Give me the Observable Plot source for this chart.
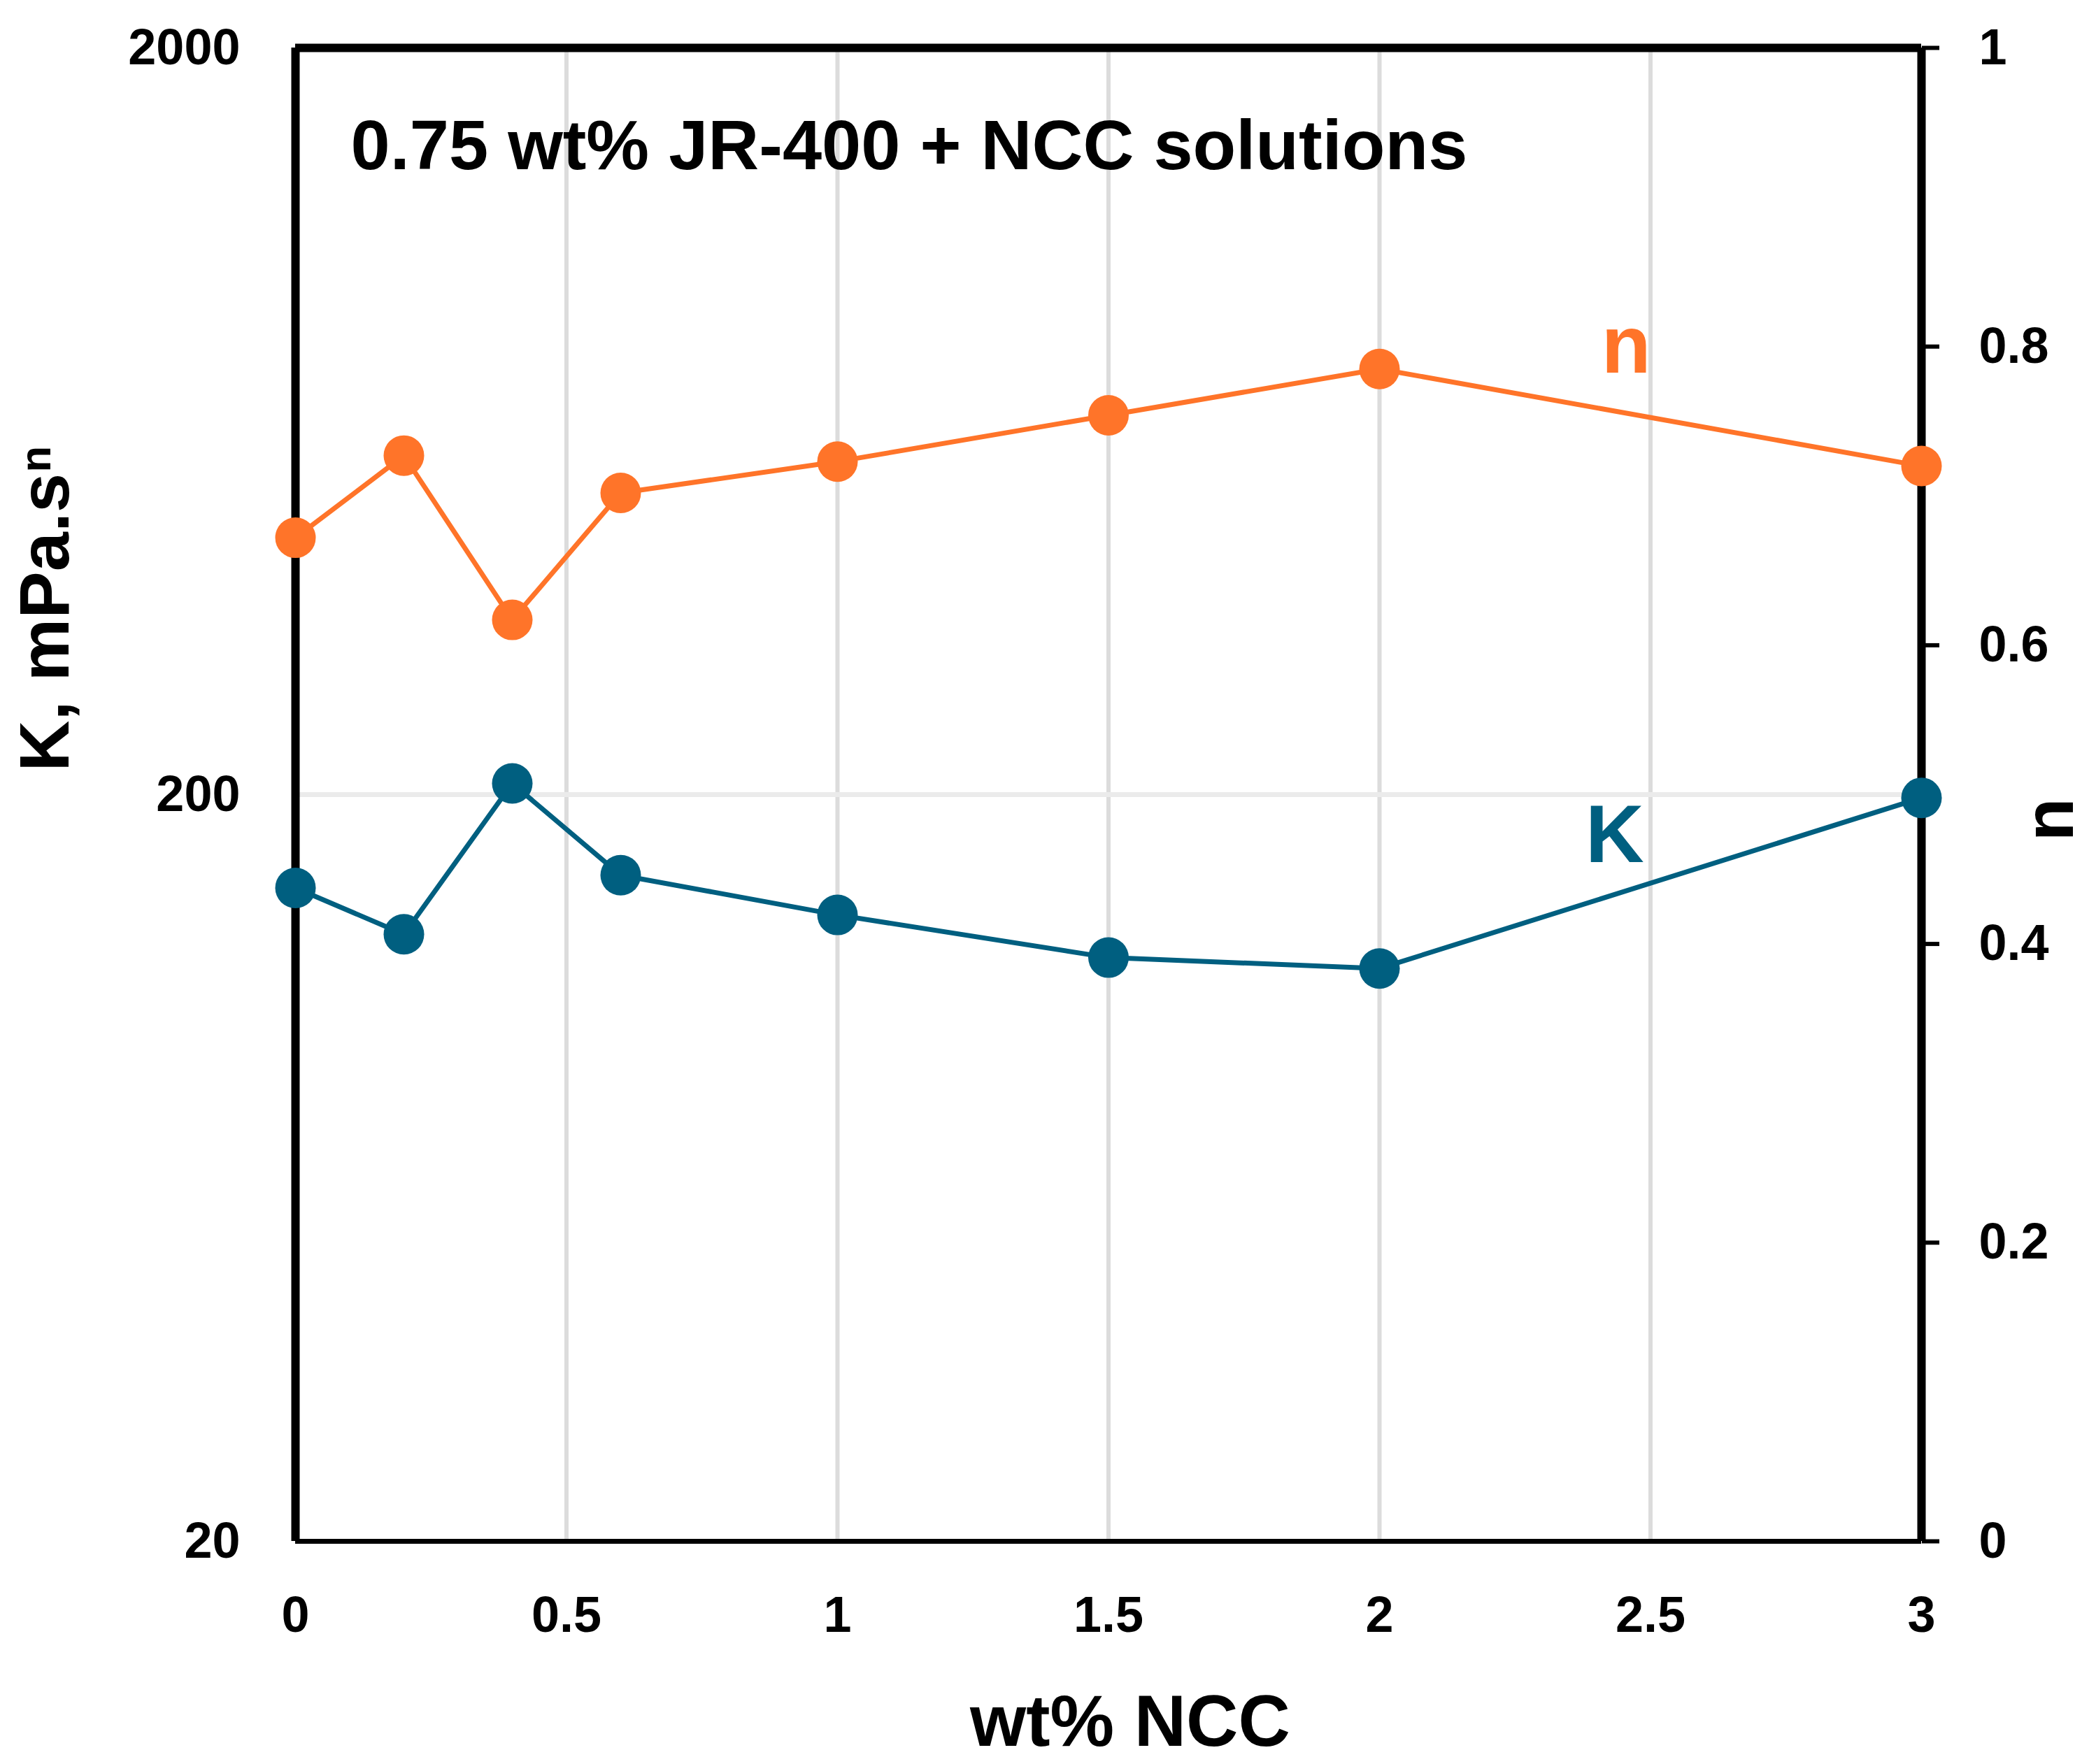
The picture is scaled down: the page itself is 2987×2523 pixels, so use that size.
<!DOCTYPE html>
<html>
<head>
<meta charset="utf-8">
<script src="https://cdn.jsdelivr.net/npm/d3@7"></script>
<script src="https://cdn.jsdelivr.net/npm/@observablehq/plot@0.6"></script>
<style>
  body { margin: 0; background: #fff; }
  #chart svg { display: block; }
</style>
</head>
<body>
<div id="chart"></div>
<script>
// K and n vs NCC loading, log K on the left, linear n on the right

const ncc = [0, 0.2, 0.4, 0.6, 1, 1.5, 2, 3];
const kValues = [150, 130, 207, 156, 138, 121, 117, 198];
const nValues = [0.672, 0.727, 0.617, 0.702, 0.723, 0.754, 0.785, 0.720];

const xTicks = [0, 0.5, 1, 1.5, 2, 2.5, 3];
const kTicks = [20, 200, 2000];
const nTicks = [0, 0.2, 0.4, 0.6, 0.8, 1];

const ORANGE = "#ff7429";
const TEAL = "#005f80";
const FONT = "'Liberation Sans', Arial, sans-serif";

// y scale runs in n units (0..1); the log K axis shares it: K=20 -> 0, K=2000 -> 1
const K_MIN = 20, K_MAX = 2000;
const kToN = k => Math.log(k / K_MIN) / Math.log(K_MAX / K_MIN);
const nToK = n => K_MIN * Math.pow(K_MAX / K_MIN, n);

const kRows = ncc.map((x, i) => ({ x, y: kToN(kValues[i]) }));
const nRows = ncc.map((x, i) => ({ x, y: nValues[i] }));

const plot = Plot.plot({
  width: 2987,
  height: 2523,
  marginLeft: 422,
  marginRight: 240,
  marginTop: 68,
  marginBottom: 319,
  style: { fontFamily: FONT, fontWeight: "bold", color: "#000", background: "#fff" },
  x: { domain: [0, 3] },
  y: { domain: [0, 1] },
  marks: [
    // grid
    Plot.ruleX(xTicks.slice(1, -1), { stroke: "#dcdcdc", strokeWidth: 6 }),
    Plot.ruleY(kTicks.map(kToN), { stroke: "#ebebeb", strokeWidth: 7 }),

    // frame
    Plot.ruleX([0, 3], { stroke: "#000", strokeWidth: 12 }),
    Plot.ruleY([1], { stroke: "#000", strokeWidth: 12 }),
    Plot.ruleY([0], { stroke: "#000", strokeWidth: 7 }),

    // axes
    Plot.axisX({
      ticks: xTicks, tickSize: 0, tickPadding: 78, fontSize: 72,
      tickFormat: d => String(d), label: null
    }),
    Plot.axisY({
      anchor: "left", ticks: kTicks.map(kToN), tickSize: 0, tickPadding: 79, fontSize: 72,
      tickFormat: d => String(Math.round(nToK(d))), label: null
    }),
    Plot.axisY({
      anchor: "right", ticks: nTicks, tickSize: 25, tickPadding: 57,
      strokeWidth: 6, fontSize: 72,
      tickFormat: d => String(d), label: null
    }),

    // series
    Plot.line(nRows, { x: "x", y: "y", stroke: ORANGE, strokeWidth: 7 }),
    Plot.dot(nRows, { x: "x", y: "y", r: 29, fill: ORANGE }),
    Plot.line(kRows, { x: "x", y: "y", stroke: TEAL, strokeWidth: 7 }),
    Plot.dot(kRows, { x: "x", y: "y", r: 29, fill: TEAL }),

    // series labels
    Plot.text([{ x: 2.455, y: 0.80 }], {
      x: "x", y: "y", text: () => "n", fill: ORANGE, fontSize: 116, fontWeight: "bold"
    }),
    Plot.text([{ x: 2.434, y: kToN(176) }], {
      x: "x", y: "y", text: () => "K", fill: TEAL, fontSize: 116, fontWeight: "bold"
    }),

    // title inside the frame
    Plot.text(["0.75 wt% JR-400 + NCC solutions"], {
      text: d => d, frameAnchor: "top-left", textAnchor: "start", lineAnchor: "middle",
      dx: 79, dy: 141, fontSize: 101, fontWeight: "bold", fill: "#000"
    }),

    // axis titles
    Plot.text(["K, mPa.s\u207f"], {
      text: d => d, frameAnchor: "left", rotate: -90, lineAnchor: "middle",
      dx: -357, dy: -33, fontSize: 101, fontWeight: "bold", fill: "#000"
    }),
    Plot.text(["n"], {
      text: d => d, frameAnchor: "right", rotate: -90, lineAnchor: "middle",
      dx: 184, dy: 5, fontSize: 101, fontWeight: "bold", fill: "#000"
    }),
    Plot.text(["wt% NCC"], {
      text: d => d, frameAnchor: "bottom", lineAnchor: "middle",
      dx: 31, dy: 260, fontSize: 103, fontWeight: "bold", fill: "#000"
    })
  ]
});

document.getElementById("chart").appendChild(plot);
</script>
</body>
</html>
